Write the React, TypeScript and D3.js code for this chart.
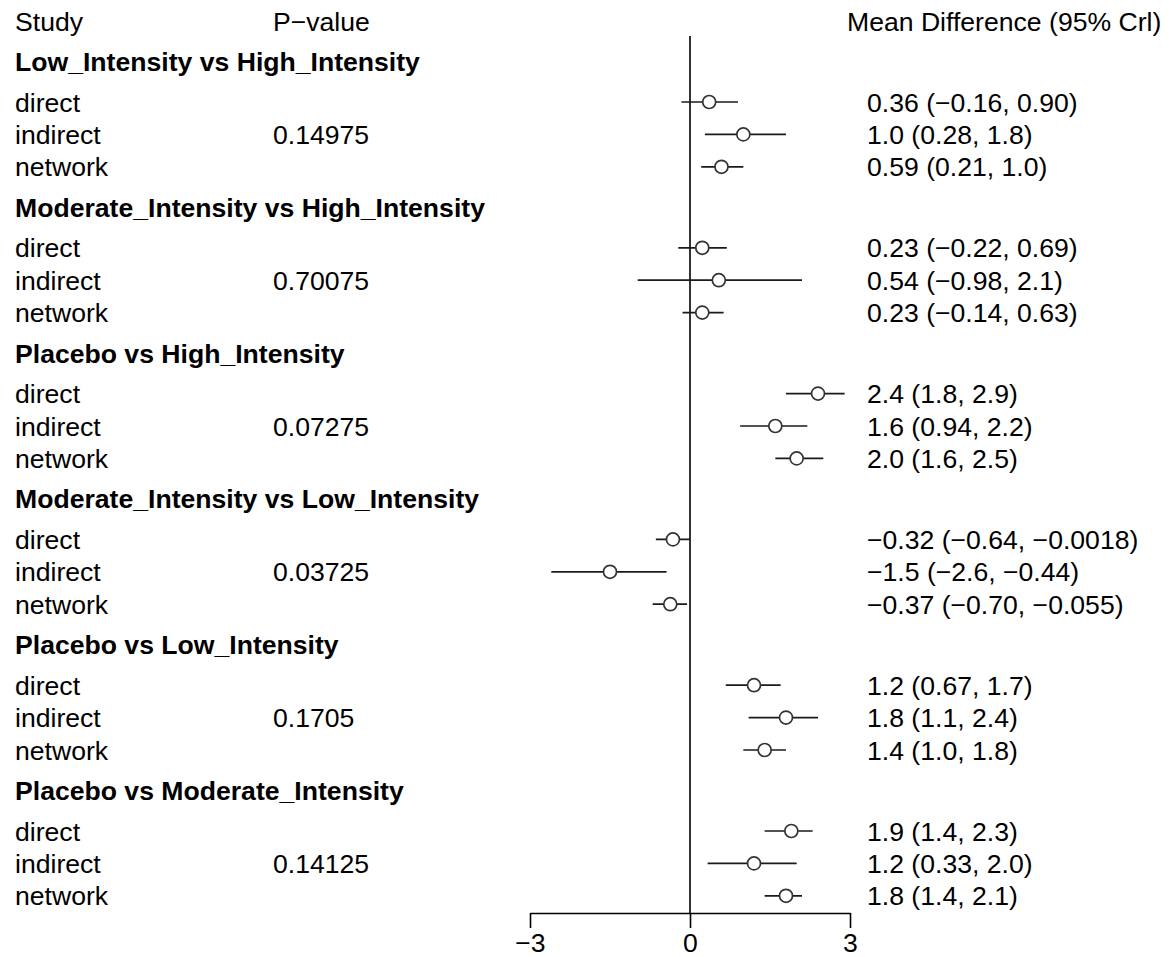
import React, { useEffect, useRef } from "react";
import * as d3 from "d3";

// Comparisons shown as groups, top to bottom
const comparisons = [
  "Low_Intensity vs High_Intensity",
  "Moderate_Intensity vs High_Intensity",
  "Placebo vs High_Intensity",
  "Moderate_Intensity vs Low_Intensity",
  "Placebo vs Low_Intensity",
  "Placebo vs Moderate_Intensity",
];

// Evidence sources within each comparison
const sources = ["direct", "indirect", "network"];

// Inconsistency p-values, one per comparison
const pValues = [0.14975, 0.70075, 0.07275, 0.03725, 0.1705, 0.14125];

// Mean difference estimates [direct, indirect, network] per comparison
const means = [
  [0.36, 1.0, 0.59],
  [0.23, 0.54, 0.23],
  [2.4, 1.6, 2.0],
  [-0.32, -1.5, -0.37],
  [1.2, 1.8, 1.4],
  [1.9, 1.2, 1.8],
];

// Lower 95% credible limits
const lowers = [
  [-0.16, 0.28, 0.21],
  [-0.22, -0.98, -0.14],
  [1.8, 0.94, 1.6],
  [-0.64, -2.6, -0.7],
  [0.67, 1.1, 1.0],
  [1.4, 0.33, 1.4],
];

// Upper 95% credible limits
const uppers = [
  [0.9, 1.8, 1.0],
  [0.69, 2.1, 0.63],
  [2.9, 2.2, 2.5],
  [-0.0018, -0.44, -0.055],
  [1.7, 2.4, 1.8],
  [2.3, 2.0, 2.1],
];

const xTicks = [-3, 0, 3];
const xDomain = [-3, 3];

const W = 1169;
const H = 957;
const FONT = "'Liberation Sans', Arial, Helvetica, sans-serif";
const FS = 26.6;
const BASE = 9.5; // baseline offset from a row's centre

// Row layout in "line" units: title at 0, each group takes 4.5 lines
const ROW_PX = 32.4;
const TOP = 21;
const headerUnit = (g: number) => 1.25 + 4.5 * g;
const rowUnit = (g: number, k: number) => 2.5 + 4.5 * g + k;

const fmt = d3.format(".2r");

export default function App() {
  const axisRef = useRef<SVGGElement>(null);

  const x = d3.scaleLinear().domain(xDomain).range([530, 850]);
  const y = d3.scaleLinear().domain([0, 1]).range([TOP, TOP + ROW_PX]);
  const axisY = 913;

  useEffect(() => {
    if (!axisRef.current) return;
    const g = d3.select(axisRef.current);
    g.selectAll("*").remove();
    g.call(
      d3
        .axisBottom(x)
        .tickValues(xTicks)
        .tickSize(15)
        .tickSizeOuter(0)
        .tickPadding(5)
        .tickFormat(d3.format("d"))
    );
    g.select(".domain").attr("stroke", "#000").attr("stroke-width", 1.6);
    g.selectAll(".tick line").attr("stroke", "#000").attr("stroke-width", 1.6);
    g.selectAll(".tick text")
      .attr("fill", "#000")
      .style("font-family", FONT)
      .style("font-size", `${FS}px`);
  }, []);

  return (
    <div style={{ position: "absolute", left: 0, top: 0 }}>
      <svg width={W} height={H} style={{ display: "block", background: "#fff" }}>
        <g fontFamily={FONT} fontSize={FS} fill="#000">
          {/* column titles */}
          <text x={15} y={y(0) + BASE}>Study</text>
          <text x={273} y={y(0) + BASE}>P−value</text>
          <text x={847} y={y(0) + BASE}>Mean Difference (95% Crl)</text>

          {comparisons.map((c, g) => (
            <g key={c}>
              <text x={15} y={y(headerUnit(g)) + BASE} fontWeight="bold">
                {c}
              </text>
              {sources.map((s, k) => (
                <text key={s} x={15} y={y(rowUnit(g, k)) + BASE}>
                  {s}
                </text>
              ))}
              <text x={273} y={y(rowUnit(g, 1)) + BASE}>
                {String(pValues[g])}
              </text>
              {sources.map((s, k) => (
                <text key={s + "-lab"} x={867} y={y(rowUnit(g, k)) + BASE}>
                  {`${fmt(means[g][k])} (${fmt(lowers[g][k])}, ${fmt(uppers[g][k])})`}
                </text>
              ))}
            </g>
          ))}
        </g>

        {/* line of no effect */}
        <line x1={x(0)} x2={x(0)} y1={36} y2={axisY} stroke="#000" strokeWidth={1.6} />

        {/* estimates with credible intervals */}
        {comparisons.map((c, g) =>
          sources.map((s, k) => {
            const cy = y(rowUnit(g, k));
            return (
              <g key={c + s}>
                <line
                  x1={x(lowers[g][k])}
                  x2={x(uppers[g][k])}
                  y1={cy}
                  y2={cy}
                  stroke="#1a1a1a"
                  strokeWidth={1.7}
                />
                <circle cx={x(means[g][k])} cy={cy} r={6.5} fill="#fff" stroke="#333" strokeWidth={1.7} />
              </g>
            );
          })
        )}

        <g ref={axisRef} transform={`translate(0,${axisY})`} />
      </svg>
    </div>
  );
}
